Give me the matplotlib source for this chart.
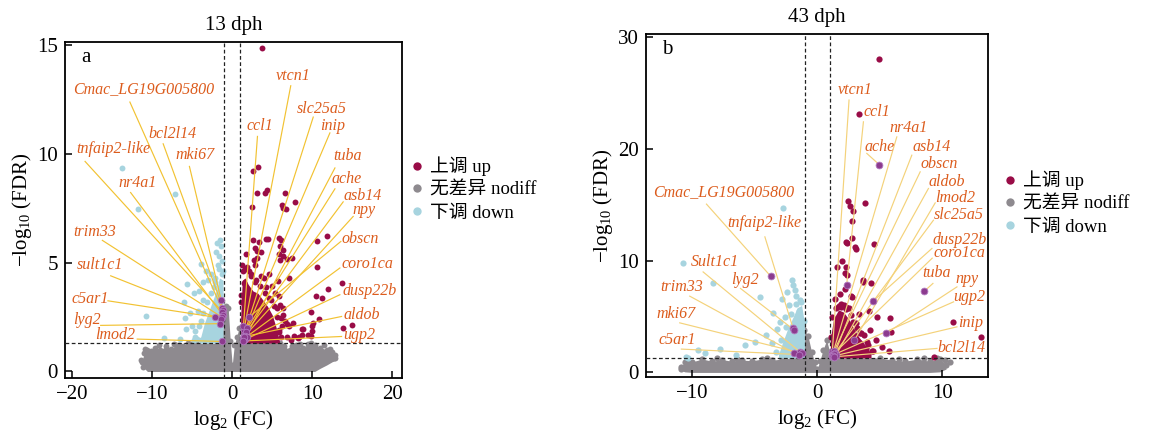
#!/usr/bin/env python3

import matplotlib
matplotlib.use("Agg")
import matplotlib.pyplot as plt
from matplotlib.lines import Line2D

plt.rcParams["font.family"] = ["Liberation Serif", "Noto Sans CJK SC"]
plt.rcParams["mathtext.fontset"] = "custom"
plt.rcParams["mathtext.rm"] = "Liberation Serif"
plt.rcParams["mathtext.it"] = "Liberation Serif:italic"

UP_COLOR = "#990c47"
NODIFF_COLOR = "#8e8a8f"
DOWN_COLOR = "#a7d4df"
LABEL_COLOR = "#dc5c1d"
HILITE_FACE = "#8c3b8e"
HILITE_EDGE = "#b27ac0"

FDR_CUT = 1.301  # -log10(0.05)
FC_CUT = 1.0

# ---------------- 13 dph ----------------
A_UP_X = [3.77, 2.62, 3.24, 3.07, 4.11, 4.28, 6.64, 7.85, 6.27, 6.39, 6.68, 2.53, 11.83, 10.55,
          2.62, 3.40, 4.20, 4.52, 5.89, 6.10, 5.98, 6.39, 2.86, 3.15, 3.57, 1.74, 5.81, 6.39,
          2.74, 3.03, 5.98, 6.89, 7.43, 2.15, 3.61, 4.65, 7.06, 10.55, 1.41, 5.77, 11.92, 13.74,
          10.46, 11.17, 5.98, 9.80, 10.80, 10.12, 14.98, 6.81, 7.64, 8.88, 9.92, 8.68, 8.26,
          9.50, 5.89, 4.94, 13.90, 8.76, 8.38, 7.76, 7.14, 6.39, 6.10, 9.84, 10.00,
          1.20, 1.60, 2.40, 3.00, 4.20, 5.30, 5.60, 6.30, 6.60, 5.90, 6.90, 7.30, 1.10, 2.90,
          4.00, 4.90,
          1.30, 1.80, 2.30, 2.90, 3.50, 4.10, 4.60, 5.20, 5.60, 5.80, 6.10, 1.15, 6.20]
A_UP_Y = [14.86, 9.23, 9.40, 8.23, 8.21, 8.33, 8.23, 7.78, 7.67, 7.50, 7.48, 7.56, 6.23, 6.01,
          6.06, 5.95, 6.09, 6.09, 6.16, 6.06, 5.78, 5.57, 5.66, 5.54, 5.51, 5.41, 5.41, 5.32,
          5.14, 5.20, 5.14, 5.17, 5.20, 4.60, 4.40, 4.48, 4.30, 4.80, 4.07, 4.14, 3.79, 4.07,
          3.45, 3.36, 3.07, 2.73, 2.41, 2.25, 2.12, 2.19, 2.23, 1.95, 1.87, 1.69, 1.56,
          1.69, 3.45, 3.91, 2.02, 1.95, 1.58, 1.61, 2.10, 2.58, 2.45, 1.61, 2.07,
          4.90, 4.70, 4.50, 4.20, 3.90, 3.60, 2.90, 2.90, 2.30, 1.80, 1.60, 1.45, 3.50, 4.90,
          4.30, 3.30,
          4.60, 4.80, 4.40, 4.10, 3.95, 3.60, 3.40, 3.00, 2.50, 1.90, 1.60, 3.20, 2.10]
# densely packed up-regulated block next to the cut-offs
A_UP_CORE_X = [1.05, 1.25, 1.6, 2.0, 2.6, 3.2, 3.8, 4.4, 5.0, 5.5, 5.9]
A_UP_CORE_TOP = [2.5, 4.2, 4.3, 4.0, 3.7, 3.6, 3.3, 3.0, 2.6, 2.0, 1.4]

A_DOWN_X = [-13.8, -7.19, -11.74, -10.83, -8.5, -5.85, -5.73, -5.64, -3.86, -4.82, -4.6, -1.9,
            -1.55, -1.35, -2.05, -1.6, -1.3, -1.8, -3.3, -3.0, -2.6, -2.3, -3.6, -4.3, -3.9,
            -5.0, -4.7, -6.5, -3.4, -2.2, -1.2, -4.1, -3.7, -5.3, -6.0,
            -4.4, -4.1, -3.6, -3.1, -2.6, -2.2, -1.7, -1.25, -3.9, -4.8]
A_DOWN_Y = [9.36, 8.16, 7.47, 2.53, 1.56, 2.46, 1.95, 4.02, 4.95, 3.6, 1.84, 5.9,
            6.06, 5.75, 5.5, 5.3, 5.1, 4.9, 4.6, 4.2, 4.5, 3.9, 3.3, 2.8, 2.3,
            2.1, 1.6, 1.5, 1.6, 4.3, 4.6, 3.7, 4.1, 2.7, 3.2,
            1.5, 2.1, 2.7, 3.2, 3.6, 4.1, 4.7, 4.5, 1.45, 1.45]
A_DOWN_CORE_X = [-4.0, -3.5, -3.0, -2.5, -2.0, -1.6, -1.15]
A_DOWN_CORE_TOP = [1.5, 2.2, 2.7, 3.2, 3.7, 4.3, 4.2]

# outline of the non-significant cloud
A_NODIFF_X = [-11.3, -11.0, -10.6, -10.2, -9.6, -9.0, -8.3, -7.6, -7.0, -6.2, -5.5, -4.5, -3.0,
              -1.5, -1.05, -0.8, -0.5, -0.25, 0.0, 0.25, 0.55, 0.85, 1.05, 1.3, 3.0, 6.0, 6.5,
              7.2, 8.0, 8.8, 9.5, 10.3, 11.0, 11.8, 12.5, 12.9]
A_NODIFF_HI = [0.45, 0.85, 1.0, 0.95, 1.1, 1.0, 1.15, 1.05, 1.2, 1.15, 1.3, 1.3, 1.3,
               1.3, 2.2, 3.0, 2.9, 1.4, 0.3, 1.2, 1.6, 2.0, 1.4, 1.3, 1.3, 1.3, 1.15,
               1.0, 1.2, 1.1, 1.25, 1.2, 1.1, 1.0, 0.9, 0.6]
A_NODIFF_LO = [0.35, 0.15, 0.0, 0.0, 0.0, 0.0, 0.0, 0.0, 0.0, 0.0, 0.0, 0.0, 0.0,
               0.0, 0.0, 0.0, 0.0, 0.0, 0.0, 0.0, 0.0, 0.0, 0.0, 0.0, 0.0, 0.0, 0.0,
               0.0, 0.0, 0.0, 0.0, 0.0, 0.15, 0.3, 0.45, 0.5]
A_NODIFF_PT_X = [-11.4, -10.9, 11.5, 12.8, 12.2, 9.9, -9.2, -7.3, 7.5, 8.5, -5.2, -6.6, 10.6,
                 11.4, -11.2, 12.4]
A_NODIFF_PT_Y = [0.55, 1.05, 1.2, 0.75, 1.05, 1.3, 1.2, 1.25, 1.15, 1.25, 1.25, 1.2, 0.35,
                 0.45, 0.2, 0.6]

A_GENES = ["Cmac_LG19G005800", "bcl2l14", "mki67", "tnfaip2-like", "nr4a1", "trim33", "sult1c1",
           "c5ar1", "lyg2", "lmod2", "vtcn1", "slc25a5", "inip", "ccl1", "tuba", "ache", "asb14",
           "npy", "obscn", "coro1ca", "dusp22b", "aldob", "ugp2"]
A_GENE_X = [-1.3, -1.1, -1.4, -1.25, -1.2, -1.3, -1.45, -2.2, -1.5, -1.3, 1.45, 1.35, 1.5, 1.4,
            1.55, 1.9, 1.7, 1.6, 2.1, 1.8, 1.5, 1.45, 1.3]
A_GENE_Y = [2.9, 2.85, 3.3, 2.75, 2.6, 2.5, 2.4, 2.5, 2.2, 1.38, 1.9, 1.55, 1.7, 2.1,
            1.5, 2.0, 1.8, 1.65, 2.5, 1.6, 1.45, 1.6, 1.4]
# label text centres and where each leader line leaves the label
A_TEXT_X = [-11.12, -7.47, -4.6, -14.8, -11.87, -17.2, -16.56, -17.8, -18.1, -14.57, 7.64, 11.2,
            12.58, 3.45, 14.38, 14.28, 16.25, 16.48, 16.04, 16.87, 17.19, 16.15, 15.8]
A_TEXT_Y = [13.0, 10.93, 9.96, 10.24, 8.67, 6.41, 4.88, 3.34, 2.38, 1.69, 13.6, 12.07,
            11.3, 11.27, 9.89, 8.86, 8.08, 7.44, 6.1, 4.94, 3.71, 2.6, 1.69]
A_LINE_X = [-12.79, -8.63, -5.35, -18.39, -12.7, -16.23, -15.19, -15.53, -16.44, -11.87, 7.31,
            10.12, 12.2, 3.15, 12.83, 12.83, 13.86, 15.11, 13.57, 13.45, 13.45, 13.66, 13.66]
A_LINE_Y = [12.39, 10.47, 9.43, 9.66, 8.23, 6.03, 4.4, 3.25, 2.12, 1.49, 13.14, 11.7,
            10.97, 10.81, 9.36, 8.4, 7.8, 7.13, 5.98, 4.76, 3.53, 2.53, 1.61]

# ---------------- 43 dph ----------------
B_UP_X = [4.97, 3.32, 2.48, 2.62, 3.82, 2.89, 2.8, 2.3, 2.4, 2.76, 3.02, 3.1, 4.54, 2.27, 1.55,
          2.22, 2.35, 3.69, 3.63, 4.3, 2.7, 2.76, 1.7, 1.9, 2.1, 2.3, 2.5, 3.37, 4.17, 4.81,
          5.83, 2.89, 5.9, 3.74, 3.42, 4.09, 4.44, 5.77, 10.85, 13.09, 9.35, 3.0, 3.4, 3.9,
          4.7, 5.2, 4.2, 3.2, 2.2, 1.8, 2.0, 1.4,
          1.2, 1.5, 1.9, 2.3, 2.7, 3.1, 3.5, 4.0, 4.4, 1.1]
B_UP_Y = [28.05, 23.1, 15.36, 14.92, 15.18, 14.47, 13.57, 11.69, 11.6, 12.0, 11.19, 11.01, 11.51,
          9.4, 9.4, 8.86, 8.71, 8.26, 8.11, 7.97, 6.86, 6.77, 5.95, 5.85, 6.0, 5.9, 5.8, 5.22,
          5.52, 4.98, 4.89, 4.53, 3.61, 3.34, 3.55, 2.44, 1.88, 1.93, 4.53, 3.19, 1.4, 2.0,
          2.6, 2.1, 2.9, 2.3, 3.8, 4.0, 7.5, 7.0, 10.0, 6.6,
          5.0, 5.8, 6.1, 5.7, 5.1, 4.4, 3.5, 2.7, 1.9, 3.2]
B_UP_CORE_X = [1.05, 1.3, 1.7, 2.1, 2.5, 2.9, 3.3, 3.8, 4.3]
B_UP_CORE_TOP = [3.0, 4.8, 5.6, 5.4, 4.8, 4.0, 3.2, 2.5, 1.7]

B_DOWN_X = [-2.75, -10.74, -8.33, -4.59, -2.85, -3.53, -4.13, -4.94, -5.79, -9.0, -9.54, -10.47,
            -7.8, -10.34, -3.25, -2.05, -1.92, -1.79, -1.39, -2.3, -1.7, -1.5, -2.6, -3.0,
            -3.6, -6.5, -2.4,
            -3.3, -2.9, -2.5, -2.1, -1.7, -1.3, -1.05]
B_DOWN_Y = [14.68, 9.76, 8.02, 6.77, 6.56, 5.34, 3.34, 2.74, 2.5, 1.76, 2.0, 1.4,
            2.09, 1.31, 3.9, 8.26, 7.81, 7.37, 6.47, 6.0, 6.8, 5.5, 5.0, 4.5,
            2.6, 1.6, 7.2,
            1.8, 2.9, 4.1, 5.2, 6.1, 6.3, 4.6]
B_DOWN_CORE_X = [-3.1, -2.8, -2.4, -2.0, -1.6, -1.25, -1.02]
B_DOWN_CORE_TOP = [1.6, 2.6, 3.8, 4.8, 5.8, 6.0, 4.4]

B_NODIFF_X = [-10.9, -10.6, -10.0, -9.2, -8.4, -7.6, -6.8, -6.0, -5.2, -4.4, -3.6, -2.8, -2.0,
              -1.4, -1.05, -0.75, -0.45, -0.2, 0.0, 0.2, 0.45, 0.75, 1.0, 1.3, 3.0, 5.0, 6.0,
              7.0, 8.0, 9.0, 9.8, 10.3]
B_NODIFF_HI = [0.5, 0.9, 0.95, 1.2, 1.0, 1.15, 1.0, 1.1, 1.05, 1.2, 1.1, 1.2, 1.3,
               1.6, 3.8, 3.3, 1.8, 0.9, 0.3, 1.0, 2.0, 2.9, 1.8, 1.3, 1.3, 1.3, 1.1,
               1.0, 1.2, 1.0, 1.2, 0.7]
B_NODIFF_LO = [0.2, 0.05, 0.0, 0.0, 0.0, 0.0, 0.0, 0.0, 0.0, 0.0, 0.0, 0.0, 0.0,
               0.0, 0.0, 0.0, 0.0, 0.0, 0.0, 0.0, 0.0, 0.0, 0.0, 0.0, 0.0, 0.0, 0.0,
               0.0, 0.0, 0.0, 0.05, 0.3]
B_NODIFF_PT_X = [-10.9, -10.4, 10.6, 10.2, 9.6, -8.0, -6.4, 6.5, 8.5, -4.0]
B_NODIFF_PT_Y = [0.35, 1.0, 0.9, 1.1, 1.3, 1.3, 1.2, 1.2, 1.25, 1.3]

B_GENES = ["vtcn1", "ccl1", "nr4a1", "ache", "asb14", "obscn", "aldob", "lmod2", "slc25a5",
           "dusp22b", "coro1ca", "tuba", "npy", "ugp2", "inip", "bcl2l14", "Cmac_LG19G005800",
           "tnfaip2-like", "Sult1c1", "lyg2", "trim33", "mki67", "c5ar1"]
B_GENE_X = [1.2, 2.35, 1.3, 4.97, 1.4, 1.2, 1.5, 2.97, 1.25, 4.44, 1.3, 8.57, 5.5, 1.15, 1.25,
            1.35, -3.73, -1.95, -1.4, -1.85, -1.85, -1.2, -1.5]
B_GENE_Y = [1.8, 7.84, 1.9, 18.59, 1.7, 1.6, 1.55, 2.89, 1.5, 6.36, 1.65, 7.28, 3.5, 1.5, 1.45,
            1.4, 8.62, 4.0, 1.85, 3.8, 1.75, 1.7, 1.6]
B_TEXT_X = [3.02, 4.76, 7.27, 5.02, 9.17, 9.73, 10.39, 11.0, 11.35, 11.38, 11.38, 9.51, 12.0,
            12.16, 12.28, 11.52, -7.48, -4.27, -8.2, -5.75, -10.86, -11.26, -11.19]
B_TEXT_Y = [25.27, 23.28, 21.84, 20.2, 20.2, 18.62, 17.06, 15.63, 14.08, 11.9, 10.65, 8.86, 8.4,
            6.77, 4.39, 2.15, 16.17, 13.4, 9.9, 8.26, 7.61, 5.22, 2.89]
B_LINE_X = [2.54, 3.69, 6.36, 3.96, 7.56, 8.23, 8.89, 9.43, 9.29, 9.17, 9.19, 9.25, 11.17,
            10.9, 11.17, 9.57, -8.86, -4.19, -9.13, -6.14, -10.2, -11.0, -10.87]
B_LINE_Y = [24.39, 22.44, 21.09, 19.61, 19.45, 17.96, 16.47, 15.18, 13.63, 11.1, 10.23, 7.97,
            7.66, 6.32, 4.08, 2.15, 15.07, 12.14, 9.0, 7.52, 6.83, 4.44, 2.09]

LEGEND_LABELS = ["上调 up", "无差异 nodiff", "下调 down"]


def draw_panel(ax, d, title, letter, line_color, xlim, ylim, xticks, yticks, ms):
    # non-significant genes
    ax.fill_between(d["nd_x"], d["nd_lo"], d["nd_hi"], color=NODIFF_COLOR, lw=0, zorder=1)
    ax.scatter(d["nd_x"], d["nd_hi"], s=ms, color=NODIFF_COLOR, lw=0, zorder=1)
    ax.scatter(d["nd_pt_x"], d["nd_pt_y"], s=ms, color=NODIFF_COLOR, lw=0, zorder=1)

    # down / up regulated
    ax.fill_between(d["dn_core_x"], FDR_CUT, d["dn_core_top"], color=DOWN_COLOR, lw=0, zorder=2)
    ax.scatter(d["dn_x"], d["dn_y"], s=ms, color=DOWN_COLOR, lw=0, zorder=2)
    ax.fill_between(d["up_core_x"], FDR_CUT, d["up_core_top"], color=UP_COLOR, lw=0, zorder=2)
    ax.scatter(d["up_x"], d["up_y"], s=ms, color=UP_COLOR, lw=0, zorder=2)

    # cut-off lines
    dash = dict(color="#222222", lw=0.9, ls=(0, (3, 2)), zorder=3)
    ax.axvline(-FC_CUT, **dash)
    ax.axvline(FC_CUT, **dash)
    ax.axhline(FDR_CUT, **dash)

    # labelled genes
    for name, gx, gy, tx, ty, lx, ly in zip(d["genes"], d["gx"], d["gy"], d["tx"], d["ty"],
                                            d["lx"], d["ly"]):
        ax.plot([lx, gx], [ly, gy], color=line_color, lw=0.85, zorder=4)
        ax.text(tx, ty, name, color=LABEL_COLOR, fontsize=11.5, style="italic",
                ha="center", va="center", zorder=6)
    ax.scatter(d["gx"], d["gy"], s=ms + 4, facecolor=HILITE_FACE, edgecolor=HILITE_EDGE,
               lw=0.6, zorder=5)

    ax.set_xlim(*xlim)
    ax.set_ylim(*ylim)
    ax.set_xticks(xticks)
    ax.set_yticks(yticks)
    ax.tick_params(direction="in", length=5, width=1.1, labelsize=15, pad=5)
    for sp in ax.spines.values():
        sp.set_linewidth(1.3)

    ax.set_xlabel(r"$\mathregular{log_2}$ (FC)", fontsize=15, labelpad=3)
    ax.set_ylabel(r"$\mathregular{-log_{10}}$ (FDR)", fontsize=15, labelpad=2)
    ax.set_title(title, fontsize=15, pad=9)
    ax.text(0.062, 0.955, letter, transform=ax.transAxes, fontsize=15, ha="center", va="center")


def add_legend(ax, x, y):
    handles = [Line2D([], [], ls="", marker="o", ms=6, mec="none", mfc=c)
               for c in (UP_COLOR, NODIFF_COLOR, DOWN_COLOR)]
    ax.legend(handles, LEGEND_LABELS, loc="center left", bbox_to_anchor=(x, y), frameon=False,
              fontsize=13.5, handlelength=0.6, handletextpad=0.4, labelspacing=0.3,
              borderpad=0, borderaxespad=0)


def main():
    fig = plt.figure(figsize=(11.5, 4.36), dpi=100)
    ax_a = fig.add_axes([0.0565, 0.133, 0.293, 0.7706])
    ax_b = fig.add_axes([0.5617, 0.1353, 0.2974, 0.7867])

    data_a = dict(up_x=A_UP_X, up_y=A_UP_Y, up_core_x=A_UP_CORE_X, up_core_top=A_UP_CORE_TOP,
                  dn_x=A_DOWN_X, dn_y=A_DOWN_Y, dn_core_x=A_DOWN_CORE_X,
                  dn_core_top=A_DOWN_CORE_TOP, nd_x=A_NODIFF_X, nd_hi=A_NODIFF_HI,
                  nd_lo=A_NODIFF_LO, nd_pt_x=A_NODIFF_PT_X, nd_pt_y=A_NODIFF_PT_Y,
                  genes=A_GENES, gx=A_GENE_X, gy=A_GENE_Y, tx=A_TEXT_X, ty=A_TEXT_Y,
                  lx=A_LINE_X, ly=A_LINE_Y)
    data_b = dict(up_x=B_UP_X, up_y=B_UP_Y, up_core_x=B_UP_CORE_X, up_core_top=B_UP_CORE_TOP,
                  dn_x=B_DOWN_X, dn_y=B_DOWN_Y, dn_core_x=B_DOWN_CORE_X,
                  dn_core_top=B_DOWN_CORE_TOP, nd_x=B_NODIFF_X, nd_hi=B_NODIFF_HI,
                  nd_lo=B_NODIFF_LO, nd_pt_x=B_NODIFF_PT_X, nd_pt_y=B_NODIFF_PT_Y,
                  genes=B_GENES, gx=B_GENE_X, gy=B_GENE_Y, tx=B_TEXT_X, ty=B_TEXT_Y,
                  lx=B_LINE_X, ly=B_LINE_Y)

    draw_panel(ax_a, data_a, "13 dph", "a", "#f2c232", (-20.9, 21.2), (-0.3, 15.15),
               [-20, -10, 0, 10, 20], [0, 5, 10, 15], ms=18)
    draw_panel(ax_b, data_b, "43 dph", "b", "#f4d27a", (-13.7, 13.65), (-0.41, 30.3),
               [-10, 0, 10], [0, 10, 20, 30], ms=20)

    add_legend(ax_a, 1.028, 0.5625)
    add_legend(ax_b, 1.0485, 0.507)

    fig.savefig("out.png", dpi=100)


if __name__ == "__main__":
    main()
